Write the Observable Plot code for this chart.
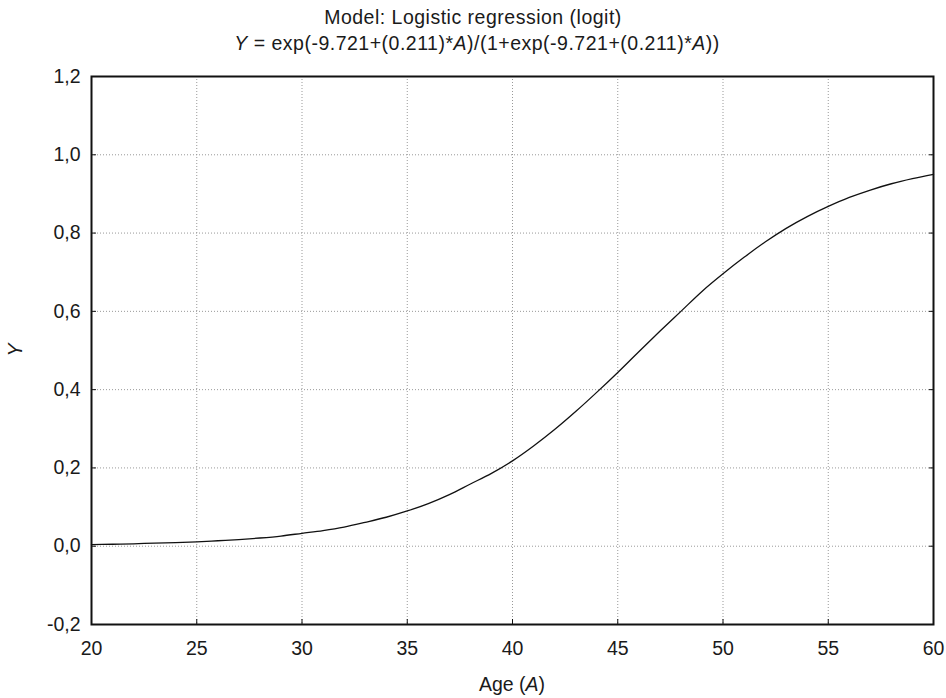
<!DOCTYPE html>
<html>
<head>
<meta charset="utf-8">
<script src="https://cdn.jsdelivr.net/npm/d3@7"></script>
<script src="https://cdn.jsdelivr.net/npm/@observablehq/plot@0.6"></script>
<style>
  body { margin: 0; background: #fff; font-family: "Liberation Sans", Arial, sans-serif; }
  #title { width: 946px; height: 60px; text-align: center; color: #1a1a1a; font-size: 19.5px; line-height: 1; position: relative; letter-spacing: 0.5px; }
  #title div { position: absolute; left: 0; width: 946px; white-space: nowrap; }
  #chart svg { display: block; }
</style>
</head>
<body>
<div id="title">
  <div style="top:8px">Model: Logistic regression (logit)</div>
  <div style="top:34px; left:4px"><i>Y</i> = exp(-9.721+(0.211)*<i>A</i>)/(1+exp(-9.721+(0.211)*<i>A</i>))</div>
</div>
<div id="chart"></div>
<script>
const ages = [20,21,22,23,24,25,26,27,28,29,30,31,32,33,34,35,36,37,38,39,40,41,42,43,44,45,46,47,48,49,50,51,52,53,54,55,56,57,58,59,60];
const yValues = [0.004,0.005,0.006,0.008,0.009,0.011,0.014,0.017,0.021,0.026,0.033,0.040,0.049,0.061,0.074,0.090,0.109,0.132,0.159,0.186,0.218,0.256,0.298,0.344,0.393,0.444,0.497,0.549,0.600,0.651,0.696,0.738,0.777,0.812,0.842,0.868,0.891,0.910,0.926,0.939,0.950];
const xTicks = [20,25,30,35,40,45,50,55,60];
const yTicks = [-0.2,0,0.2,0.4,0.6,0.8,1.0,1.2];

const data = ages.map((a, i) => ({A: a, Y: yValues[i]}));
const fmtY = d => d3.format(".1f")(d).replace(".", ",").replace("−", "-");

const chart = Plot.plot({
  width: 946,
  height: 638,
  marginLeft: 91,
  marginRight: 13,
  marginTop: 16,
  marginBottom: 74,
  style: { fontFamily: "Liberation Sans, Arial, sans-serif", fontSize: "19.5px", color: "#1a1a1a", background: "#fff" },
  x: { domain: [20, 60] },
  y: { domain: [-0.2, 1.2] },
  marks: [
    Plot.gridX(xTicks, { stroke: "#999", strokeOpacity: 1, strokeDasharray: "1,2" }),
    Plot.gridY(yTicks, { stroke: "#999", strokeOpacity: 1, strokeDasharray: "1,2" }),
    Plot.axisX(xTicks, { tickSize: -5, tickPadding: 22, tickFormat: d => String(d), label: null, stroke: "#111" }),
    Plot.axisY(yTicks, { tickSize: -5, tickPadding: 16, tickFormat: fmtY, label: null, stroke: "#111" }),
    Plot.axisY(yTicks, { anchor: "right", tickSize: -5, tickFormat: () => "", label: null, stroke: "#111" }),
    Plot.line(data, { x: "A", y: "Y", stroke: "#111", strokeWidth: 1.3, curve: "monotone-x" }),
    Plot.frame({ stroke: "#111", strokeWidth: 2 }),
    Plot.text(["Y"], { frameAnchor: "left", rotate: -90, dx: -76, dy: 6, fontStyle: "italic", fontSize: 19.5, fill: "#1a1a1a" })
  ]
});
document.getElementById("chart").appendChild(chart);

// x-axis label with italic A
const svg = d3.select(chart);
const lbl = svg.append("text")
  .attr("x", 512).attr("y", 631)
  .attr("text-anchor", "middle")
  .attr("font-size", 19.5)
  .attr("fill", "#1a1a1a");
lbl.append("tspan").text("Age (");
lbl.append("tspan").attr("font-style", "italic").text("A");
lbl.append("tspan").text(")");
</script>
</body>
</html>
